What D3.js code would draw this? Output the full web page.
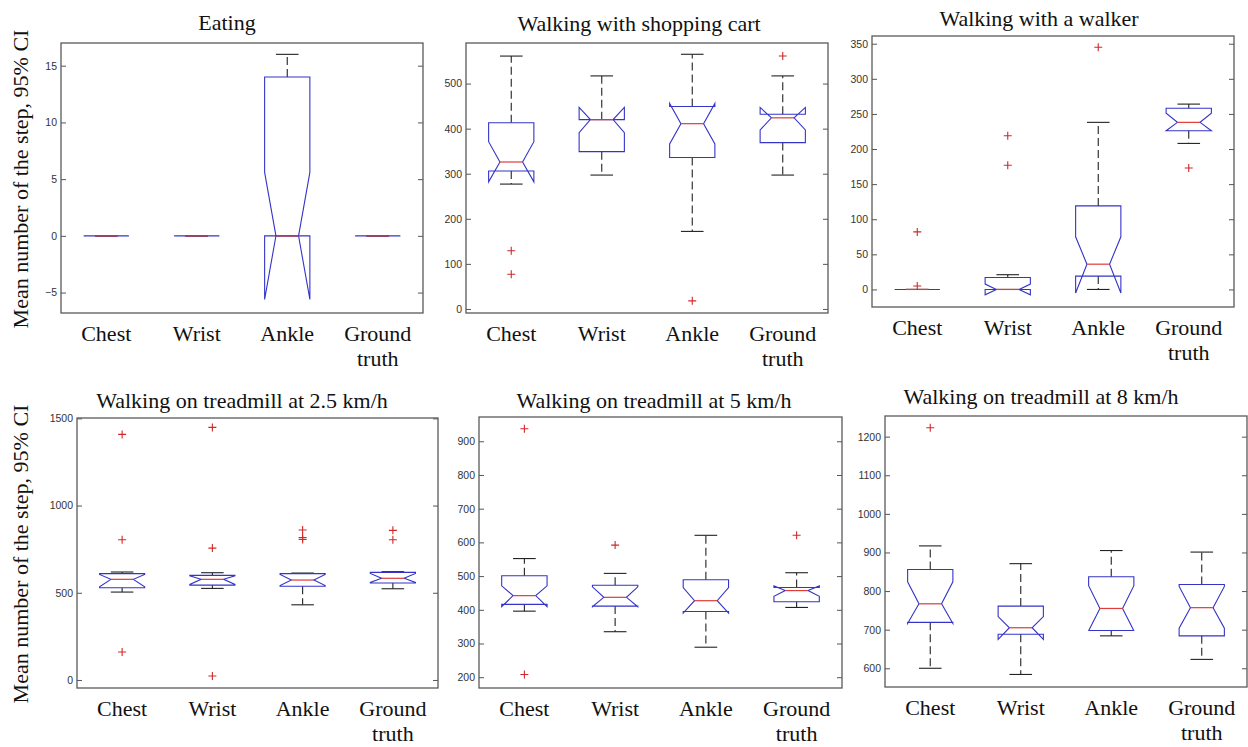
<!DOCTYPE html>
<html>
<head>
<meta charset="utf-8">
<script src="https://cdn.jsdelivr.net/npm/d3@7"></script>
<style>
  body { margin: 0; background: #fff; }
  svg { display: block; }
  .tick text { font-family: "Liberation Sans", Arial, sans-serif; font-size: 10.5px; fill: #333; }
  .tick line { stroke: #555; }
  .serif { font-family: "Liberation Serif", "Times New Roman", serif; font-size: 22px; fill: #111; }
</style>
</head>
<body>
<div id="chart"></div>
<script>
// categories / panels
const categories = ["Chest", "Wrist", "Ankle", "Ground truth"];
const titles = [
  "Eating",
  "Walking with shopping cart",
  "Walking with a walker",
  "Walking on treadmill at 2.5 km/h",
  "Walking on treadmill at 5 km/h",
  "Walking on treadmill at 8 km/h"
];
const yLimits = [[-6.8, 17], [-9, 590], [-25, 361], [-46, 1502], [168, 972], [551.5, 1253.5]];
const yTicks = [
  [-5, 0, 5, 10, 15],
  [0, 100, 200, 300, 400, 500],
  [0, 50, 100, 150, 200, 250, 300, 350],
  [0, 500, 1000, 1500],
  [200, 300, 400, 500, 600, 700, 800, 900],
  [600, 700, 800, 900, 1000, 1100, 1200]
];

// box statistics, one row per panel, one value per category
const lowWhisker = [[0, 0, 0, 0], [277, 297, 172, 297], [0, 0, 0, 208], [504, 525, 431, 523], [396, 335, 289, 407], [600, 584, 684, 623]];
const q1 =         [[0, 0, 0, 0], [306, 349, 336, 369], [0, 0, 19, 226], [529, 544, 537, 556], [416, 411, 395, 424], [719, 688, 698, 684]];
const notchLow =   [[0, 0, -5.6, 0], [282, 391, 366, 397], [0, -7.6, -5, 226], [534, 548, 541, 559], [409, 409, 390, 440], [716, 675, 697, 704]];
const median =     [[0, 0, 0, 0], [326, 420, 411, 424], [0, 0, 36, 238], [577, 577, 573, 583], [442, 437, 427, 457], [767, 705, 755, 757]];
const notchHigh =  [[0, 0, 5.6, 0], [371, 447, 456, 447], [0, 7.6, 75, 251], [605, 597, 605, 611], [471, 468, 466, 471], [824, 734, 814, 812]];
const q3 =         [[0, 0, 14, 0], [413, 420, 449, 432], [0, 17, 119, 258], [610, 600, 610, 617], [501, 473, 489, 466], [856, 761, 837, 817]];
const highWhisker =[[0, 0, 16, 0], [561, 517, 565, 517], [0, 21, 238, 264], [619, 615, 613, 621], [552, 508, 621, 510], [917, 871, 905, 901]];
const outliers = [
  [[], [], [], []],
  [[129, 77], [], [18], [561]],
  [[82, 5], [219, 177], [345], [173]],
  [[1408, 804, 160], [1448, 756, 23], [860, 817, 806], [858, 804]],
  [[937, 208], [592], [], [621]],
  [[1223], [], [], []]
];

const yLabel = "Mean number of the step, 95% CI";

// layout
const W = 1248, H = 747;
const frames = [
  {x0: 61, x1: 423, y0: 43, y1: 313, tx: 227, ty: 30},
  {x0: 466, x1: 828, y0: 43, y1: 313, tx: 639, ty: 31},
  {x0: 872, x1: 1234, y0: 36, y1: 307, tx: 1039, ty: 26},
  {x0: 77, x1: 438, y0: 418, y1: 688, tx: 242, ty: 408},
  {x0: 479, x1: 842, y0: 417, y1: 688, tx: 654, ty: 408},
  {x0: 885, x1: 1247, y0: 416, y1: 687, tx: 1041, ty: 404}
];

const svg = d3.select("#chart").append("svg")
  .attr("width", W)
  .attr("height", H);

frames.forEach(function(f, p) {
  const x = d3.scalePoint().domain(categories).range([f.x0, f.x1]).padding(0.5);
  const y = d3.scaleLinear().domain(yLimits[p]).range([f.y1, f.y0]);
  const hw = x.step() / 4;

  const g = svg.append("g");

  // left axis with labels, ticks pointing in
  g.append("g")
    .attr("transform", "translate(" + f.x0 + ",0)")
    .call(d3.axisLeft(y).tickValues(yTicks[p]).tickSizeInner(-5).tickSizeOuter(0).tickPadding(4).tickFormat(d3.format("d")))
    .call(a => a.select(".domain").remove());
  // right axis ticks only
  g.append("g")
    .attr("transform", "translate(" + f.x1 + ",0)")
    .call(d3.axisRight(y).tickValues(yTicks[p]).tickSizeInner(-5).tickSizeOuter(0).tickFormat(""))
    .call(a => a.select(".domain").remove());

  // frame
  g.append("rect")
    .attr("x", f.x0).attr("y", f.y0)
    .attr("width", f.x1 - f.x0).attr("height", f.y1 - f.y0)
    .attr("fill", "none").attr("stroke", "#5a5a5a").attr("stroke-width", 1.3);

  categories.forEach(function(c, i) {
    const cx = x(c);
    const bg = g.append("g");

    // whiskers
    bg.append("line")
      .attr("x1", cx).attr("x2", cx)
      .attr("y1", y(q3[p][i])).attr("y2", y(highWhisker[p][i]))
      .attr("stroke", "#222").attr("stroke-width", 1.1).attr("stroke-dasharray", "8,4");
    bg.append("line")
      .attr("x1", cx).attr("x2", cx)
      .attr("y1", y(q1[p][i])).attr("y2", y(lowWhisker[p][i]))
      .attr("stroke", "#222").attr("stroke-width", 1.1).attr("stroke-dasharray", "8,4");
    [highWhisker[p][i], lowWhisker[p][i]].forEach(function(v) {
      bg.append("line")
        .attr("x1", cx - hw / 2).attr("x2", cx + hw / 2)
        .attr("y1", y(v)).attr("y2", y(v))
        .attr("stroke", "#222").attr("stroke-width", 1.1);
    });

    // notched box
    const L = cx - hw, R = cx + hw, iL = cx - hw / 2, iR = cx + hw / 2;
    const pts = [
      [L, q1[p][i]], [L, notchLow[p][i]], [iL, median[p][i]], [L, notchHigh[p][i]], [L, q3[p][i]],
      [R, q3[p][i]], [R, notchHigh[p][i]], [iR, median[p][i]], [R, notchLow[p][i]], [R, q1[p][i]]
    ];
    bg.append("path")
      .attr("d", d3.line().x(d => d[0]).y(d => y(d[1]))(pts) + "Z")
      .attr("fill", "none").attr("stroke", "#3434c8").attr("stroke-width", 1.1);

    // median
    bg.append("line")
      .attr("x1", iL).attr("x2", iR)
      .attr("y1", y(median[p][i])).attr("y2", y(median[p][i]))
      .attr("stroke", "#e03a3a").attr("stroke-width", 1.2);

    // outliers
    bg.selectAll(".out")
      .data(outliers[p][i])
      .enter().append("path")
      .attr("class", "out")
      .attr("d", function(v) {
        const yy = y(v);
        return "M" + (cx - 4) + "," + yy + "H" + (cx + 4) + "M" + cx + "," + (yy - 4) + "V" + (yy + 4);
      })
      .attr("stroke", "#d02828").attr("stroke-width", 1.1);

    // category label
    const lines = c === "Ground truth" ? ["Ground", "truth"] : [c];
    lines.forEach(function(t, k) {
      g.append("text")
        .attr("class", "serif")
        .attr("x", cx).attr("y", f.y1 + 28 + k * 25)
        .attr("text-anchor", "middle")
        .text(t);
    });
  });

  // title
  g.append("text")
    .attr("class", "serif")
    .attr("x", f.tx).attr("y", f.ty)
    .attr("text-anchor", "middle")
    .text(titles[p]);
});

// y axis titles (left column)
[179, 554].forEach(function(cy) {
  svg.append("text")
    .attr("class", "serif")
    .attr("transform", "translate(28," + cy + ") rotate(-90)")
    .attr("text-anchor", "middle")
    .text(yLabel);
});
</script>
</body>
</html>
